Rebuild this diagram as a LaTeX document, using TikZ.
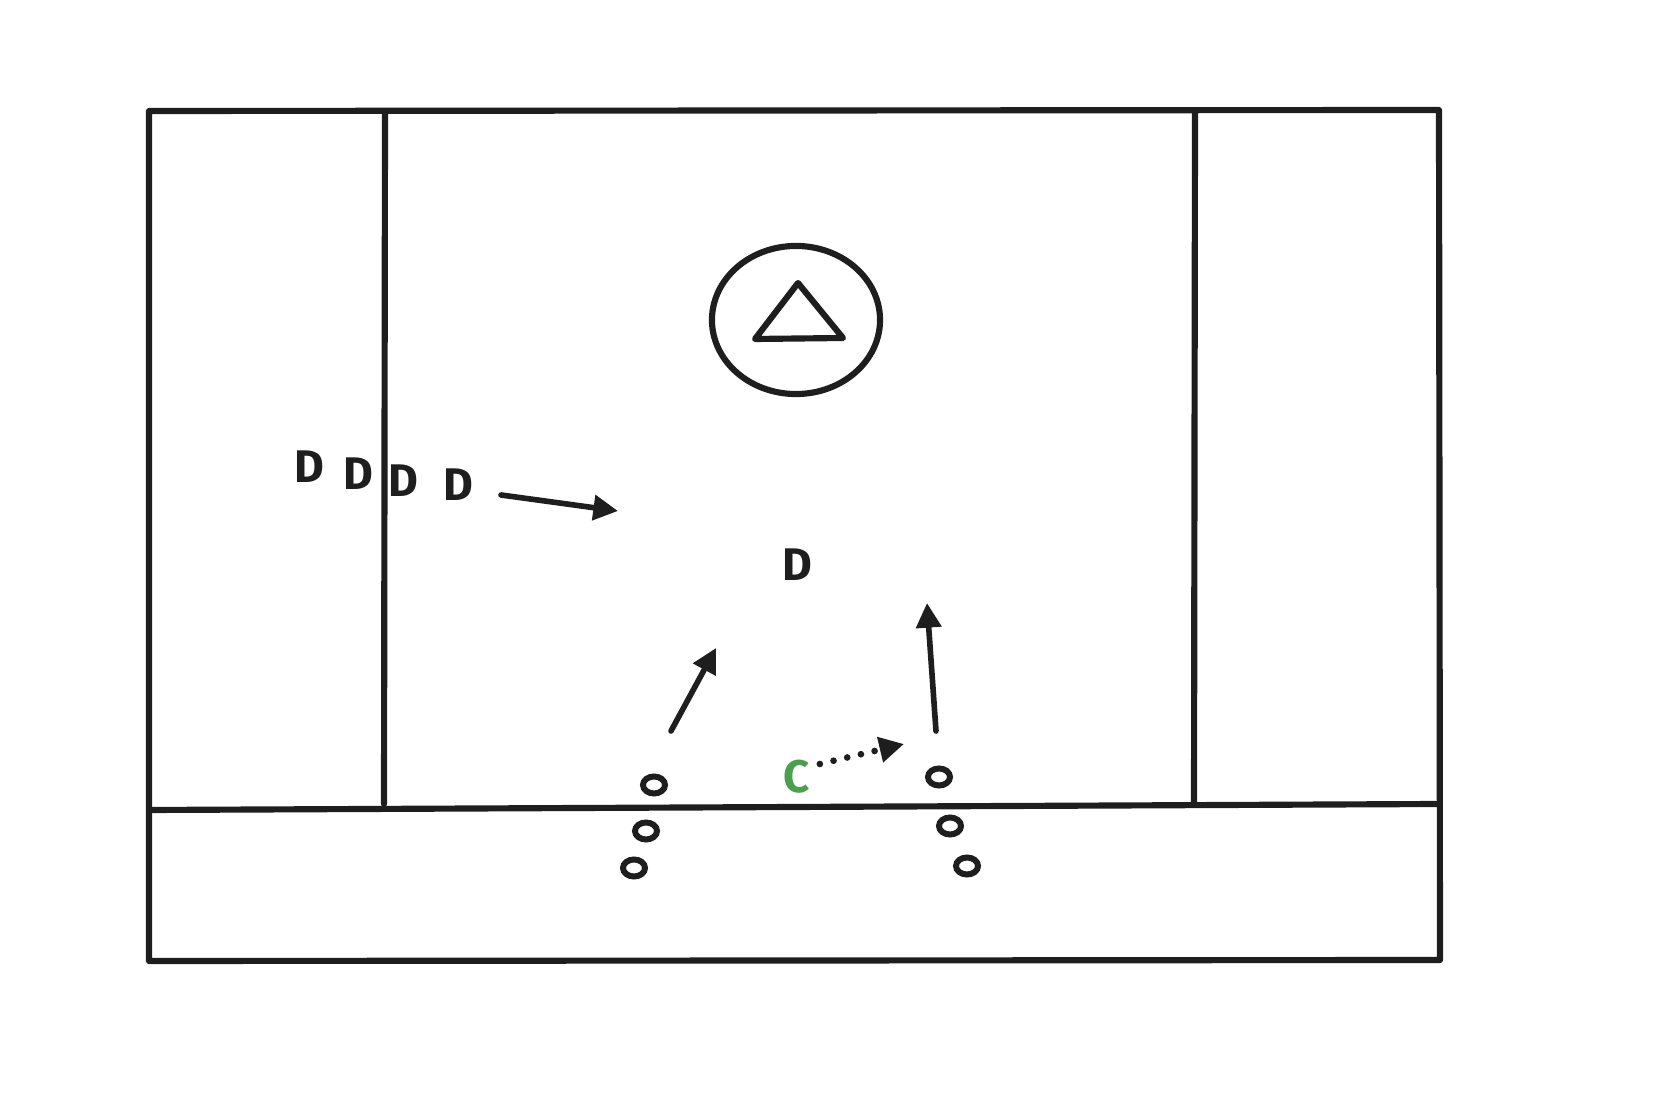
\documentclass[tikz,border=0pt]{standalone}
\usepackage{fontspec}
\setmainfont{Fira Sans}
\usetikzlibrary{arrows.meta}
\definecolor{ink}{HTML}{1E1E1E}
\definecolor{cgreen}{HTML}{4C9F4C}
\begin{document}
\begin{tikzpicture}[x=0.01cm,y=-0.01cm,
  field/.style={draw=ink,line width=1.75pt,line cap=round,line join=round},
  move/.style={draw=ink,line width=1.6pt,line cap=round,-{Triangle[length=7pt,width=7pt]}},
  passline/.style={draw=ink,line width=1.9pt,line cap=round,dash pattern=on 0pt off 4pt,-{Triangle[length=7pt,width=7pt]}},
  player/.style={inner sep=0pt,text=ink,font=\fontsize{13}{13}\selectfont\bfseries},
  cone/.style={draw=ink,line width=1.7pt}]
\useasboundingbox (0,0) rectangle (1654,1098);
% field
\draw[field] (149,111) -- (1439,110) -- (1440,960) -- (149,961) -- cycle;
\draw[field] (385,114) -- (384,804);
\draw[field] (1195,114) -- (1194,804);
\draw[field] (151,810) -- (1438,804);
% goal crease
\draw[field] (796,320) ellipse [x radius=0.84cm,y radius=0.74cm];
\draw[field] (798,283) -- (755,339) -- (843,338) -- cycle;
% defenders
\node[player] (d1) at (309,467) {D};
\node[player] (d2) at (358,474) {D};
\node[player] (d3) at (403,481) {D};
\node[player] (d4) at (458,485) {D};
\node[player] (d5) at (797,565) {D};
% coach
\node[player,text=cgreen] (c) at (797,777) {C};
% cones
\foreach \n/\p in {o1/{(654,785)},o2/{(646,831)},o3/{(634,868)},o4/{(939,777)},o5/{(950,826)},o6/{(967,866)}}
  \draw[cone] \p ellipse [x radius=0.11cm,y radius=0.085cm];
% arrows
\coordinate (a1s) at (501,495); \coordinate (a1e) at (618,511);
\coordinate (a2s) at (671,731); \coordinate (a2e) at (716,648);
\coordinate (a3s) at (936,731); \coordinate (a3e) at (927,603);
\coordinate (a4e) at (904,744);
\draw[move] (a1s) -- (a1e);
\draw[move] (a2s) -- (a2e);
\draw[move] (a3s) -- (a3e);
\draw[passline] ([xshift=0.09cm,yshift=0.13cm]c.east) -- (a4e);
\end{tikzpicture}
\end{document}
